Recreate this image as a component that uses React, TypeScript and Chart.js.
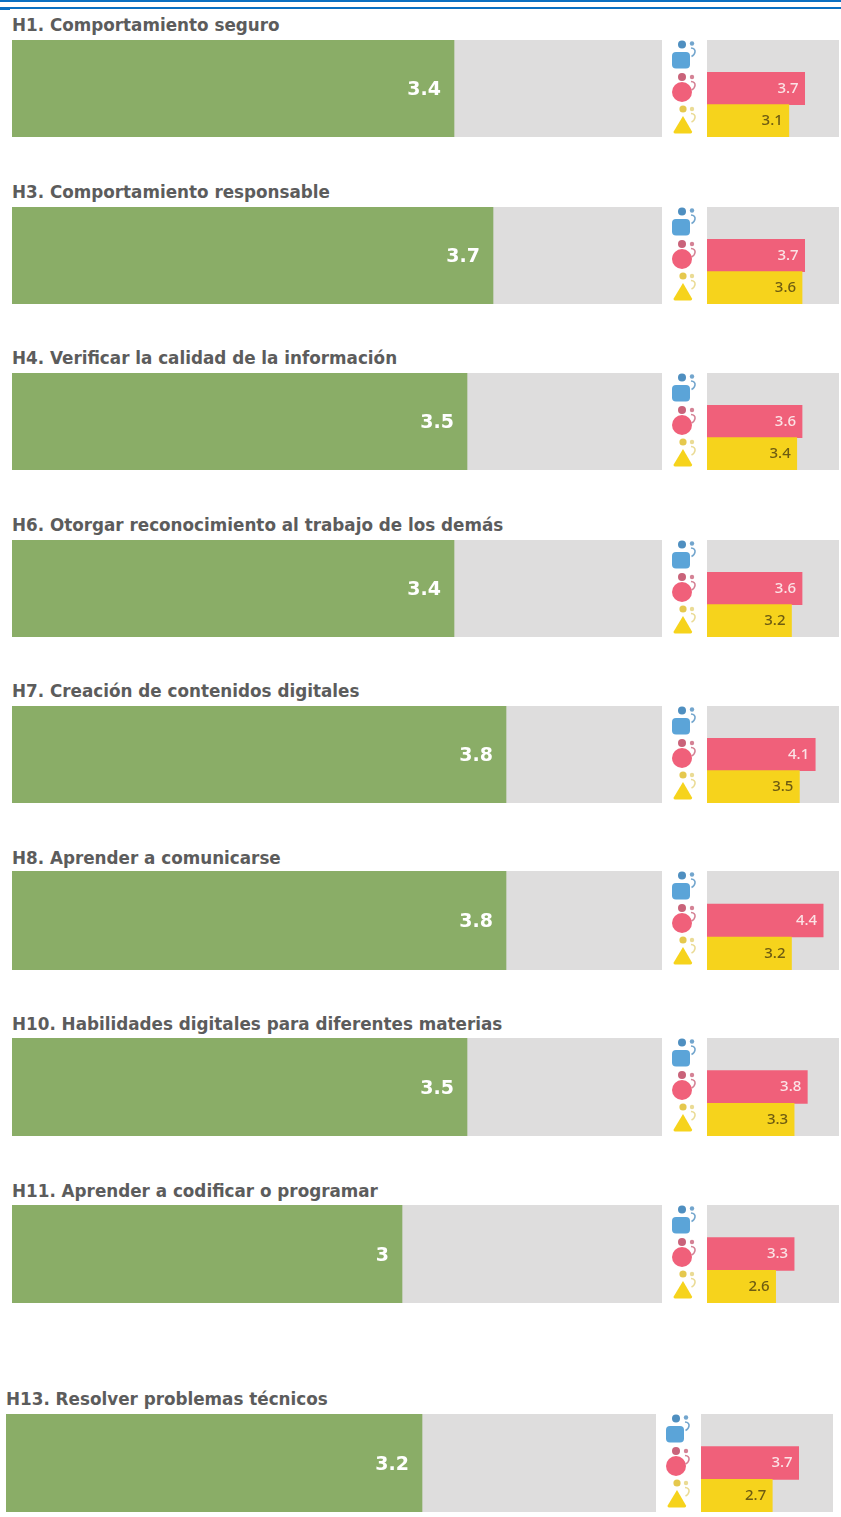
import React, { useEffect, useRef } from "react";
import { Chart, registerables } from "chart.js";

Chart.register(...registerables);

const titles = [
  "H1. Comportamiento seguro",
  "H3. Comportamiento responsable",
  "H4. Verificar la calidad de la información",
  "H6. Otorgar reconocimiento al trabajo de los demás",
  "H7. Creación de contenidos digitales",
  "H8. Aprender a comunicarse",
  "H10. Habilidades digitales para diferentes materias",
  "H11. Aprender a codificar o programar",
  "H13. Resolver problemas técnicos",
];
const totalValues = [3.4, 3.7, 3.5, 3.4, 3.8, 3.8, 3.5, 3, 3.2];
const totalLabels = ["3.4", "3.7", "3.5", "3.4", "3.8", "3.8", "3.5", "3", "3.2"];
const redValues = [3.7, 3.7, 3.6, 3.6, 4.1, 4.4, 3.8, 3.3, 3.7];
const yellowValues = [3.1, 3.6, 3.4, 3.2, 3.5, 3.2, 3.3, 2.6, 2.7];
const groups = ["Azul", "Rojo", "Amarillo"];

const panelTops = [40, 207, 373, 540, 706, 871, 1038, 1205, 1414];
const panelHeights = [97, 97, 97, 97, 97, 99, 98, 98, 98];
const panelShift = [0, 0, 0, 0, 0, 0, 0, 0, -6];
const titleY = [14, 181, 347, 514, 680, 847, 1013, 1180, 1388];

const GREEN = "#8aad67";
const GRAY = "#dedddd";
const RED = "#f0607a";
const YELLOW = "#f6d31c";
const BLUE = "#5ba4d8";
const FONT = '"DejaVu Sans", sans-serif';
const SMALL_FONT = '"Noto Sans", sans-serif';

const panelPlugin = {
  id: "panel",
  beforeDraw(chart: any) {
    const { ctx, chartArea: a } = chart;
    ctx.save();
    ctx.fillStyle = GRAY;
    ctx.fillRect(a.left, a.top, a.right - a.left, a.bottom - a.top);
    ctx.restore();
  },
  afterDatasetsDraw(chart: any, _args: any, opts: any) {
    const { ctx } = chart;
    const ds = chart.data.datasets[0];
    const meta = chart.getDatasetMeta(0);
    ctx.save();
    ctx.textAlign = "right";
    ctx.textBaseline = "middle";
    ctx.font = opts.font;
    meta.data.forEach((bar: any, i: number) => {
      if (ds.data[i] == null) return;
      ctx.fillStyle = opts.colors[i];
      ctx.fillText(opts.labels[i], bar.x - opts.gap, bar.y + opts.dy);
    });
    ctx.restore();
  },
};

function BarPanel(props: {
  labels: string[];
  values: (number | null)[];
  colors: string[];
  textColors: string[];
  textLabels: string[];
  font: string;
  gap: number;
  dy: number;
  left: number;
  top: number;
  width: number;
  height: number;
}) {
  const ref = useRef<HTMLCanvasElement>(null);
  useEffect(() => {
    const chart = new Chart(ref.current as HTMLCanvasElement, {
      type: "bar",
      data: {
        labels: props.labels,
        datasets: [
          {
            data: props.values,
            backgroundColor: props.colors,
            barPercentage: 1,
            categoryPercentage: 1,
            borderWidth: 0,
          },
        ],
      },
      options: {
        indexAxis: "y",
        animation: false,
        responsive: false,
        layout: { padding: 0 },
        scales: {
          x: { display: false, min: 0, max: 5 },
          y: { display: false },
        },
        plugins: {
          legend: { display: false },
          tooltip: { enabled: false },
          panel: {
            labels: props.textLabels,
            colors: props.textColors,
            font: props.font,
            gap: props.gap,
            dy: props.dy,
          },
        },
      } as any,
      plugins: [panelPlugin as any],
    });
    return () => chart.destroy();
  }, []);
  return (
    <canvas
      ref={ref}
      width={props.width}
      height={props.height}
      style={{ position: "absolute", left: props.left, top: props.top, width: props.width, height: props.height }}
    />
  );
}

function Icons(props: { left: number; top: number }) {
  const hook = (y: number, c: string) => (
    <g>
      <circle cx={21} cy={y} r={2.2} fill={c} opacity={0.8} />
      <path d={`M20 ${y + 4.5} q4.5 0.5 4 4 q-0.4 3 -3.5 4.5`} fill="none" stroke={c} strokeWidth={1.6} opacity={0.8} />
    </g>
  );
  return (
    <svg
      width={30}
      height={97}
      style={{ position: "absolute", left: props.left, top: props.top }}
    >
      <circle cx={11} cy={4.5} r={4} fill="#4f8fc0" />
      <rect x={1} y={12} width={18} height={16.5} rx={4} fill={BLUE} />
      {hook(3.5, "#4f8fc0")}
      <circle cx={11} cy={37} r={4} fill="#c9637a" />
      <circle cx={11} cy={52} r={10} fill={RED} />
      {hook(37, "#c9637a")}
      <circle cx={12} cy={69} r={3.6} fill="#e5c84e" />
      <path d="M12 76 L21 91.5 Q21.5 93.5 19.5 93.5 L4 93.5 Q2 93.5 2.7 91.5 Z" fill={YELLOW} />
      {hook(69, "#e5d27a")}
    </svg>
  );
}

export default function App() {
  useEffect(() => {
    document.body.style.margin = "0";
    document.body.style.background = "#fff";
  }, []);
  return (
    <div style={{ position: "relative", width: 841, height: 1517, overflow: "hidden", background: "#fff", filter: "blur(0.6px)" }}>
      <div style={{ position: "absolute", left: 0, top: 0, width: 841, height: 2, background: "#0a70c2" }} />
      <div style={{ position: "absolute", left: 0, top: 7, width: 841, height: 2, background: "#0a70c2" }} />
      <div style={{ position: "absolute", left: 0, top: 9, width: 10, height: 1, background: "#0a70c2" }} />
      {titles.map((t, i) => (
        <div
          key={t}
          style={{
            position: "absolute",
            left: 12 + panelShift[i],
            top: titleY[i],
            fontFamily: FONT,
            fontWeight: 700,
            fontSize: 16.8,
            lineHeight: "22px",
            color: "#5c5c5c",
            whiteSpace: "nowrap",
          }}
        >
          {t}
        </div>
      ))}
      {titles.map((t, i) => (
        <React.Fragment key={t}>
          <BarPanel
            labels={[t]}
            values={[totalValues[i]]}
            colors={[GREEN]}
            textColors={["#ffffff"]}
            textLabels={[totalLabels[i]]}
            font={`bold 19px ${FONT}`}
            gap={13}
            dy={2}
            left={12 + panelShift[i]}
            top={panelTops[i]}
            width={650}
            height={panelHeights[i]}
          />
          <Icons left={671 + panelShift[i]} top={panelTops[i]} />
          <BarPanel
            labels={groups}
            values={[null, redValues[i], yellowValues[i]]}
            colors={[BLUE, RED, YELLOW]}
            textColors={["#ffffff", "#fbe3e6", "#6e5c12"]}
            textLabels={["", String(redValues[i]), String(yellowValues[i])]}
            font={`500 15px ${SMALL_FONT}`}
            gap={6}
            dy={0}
            left={707 + panelShift[i]}
            top={panelTops[i]}
            width={132}
            height={panelHeights[i]}
          />
        </React.Fragment>
      ))}
    </div>
  );
}
